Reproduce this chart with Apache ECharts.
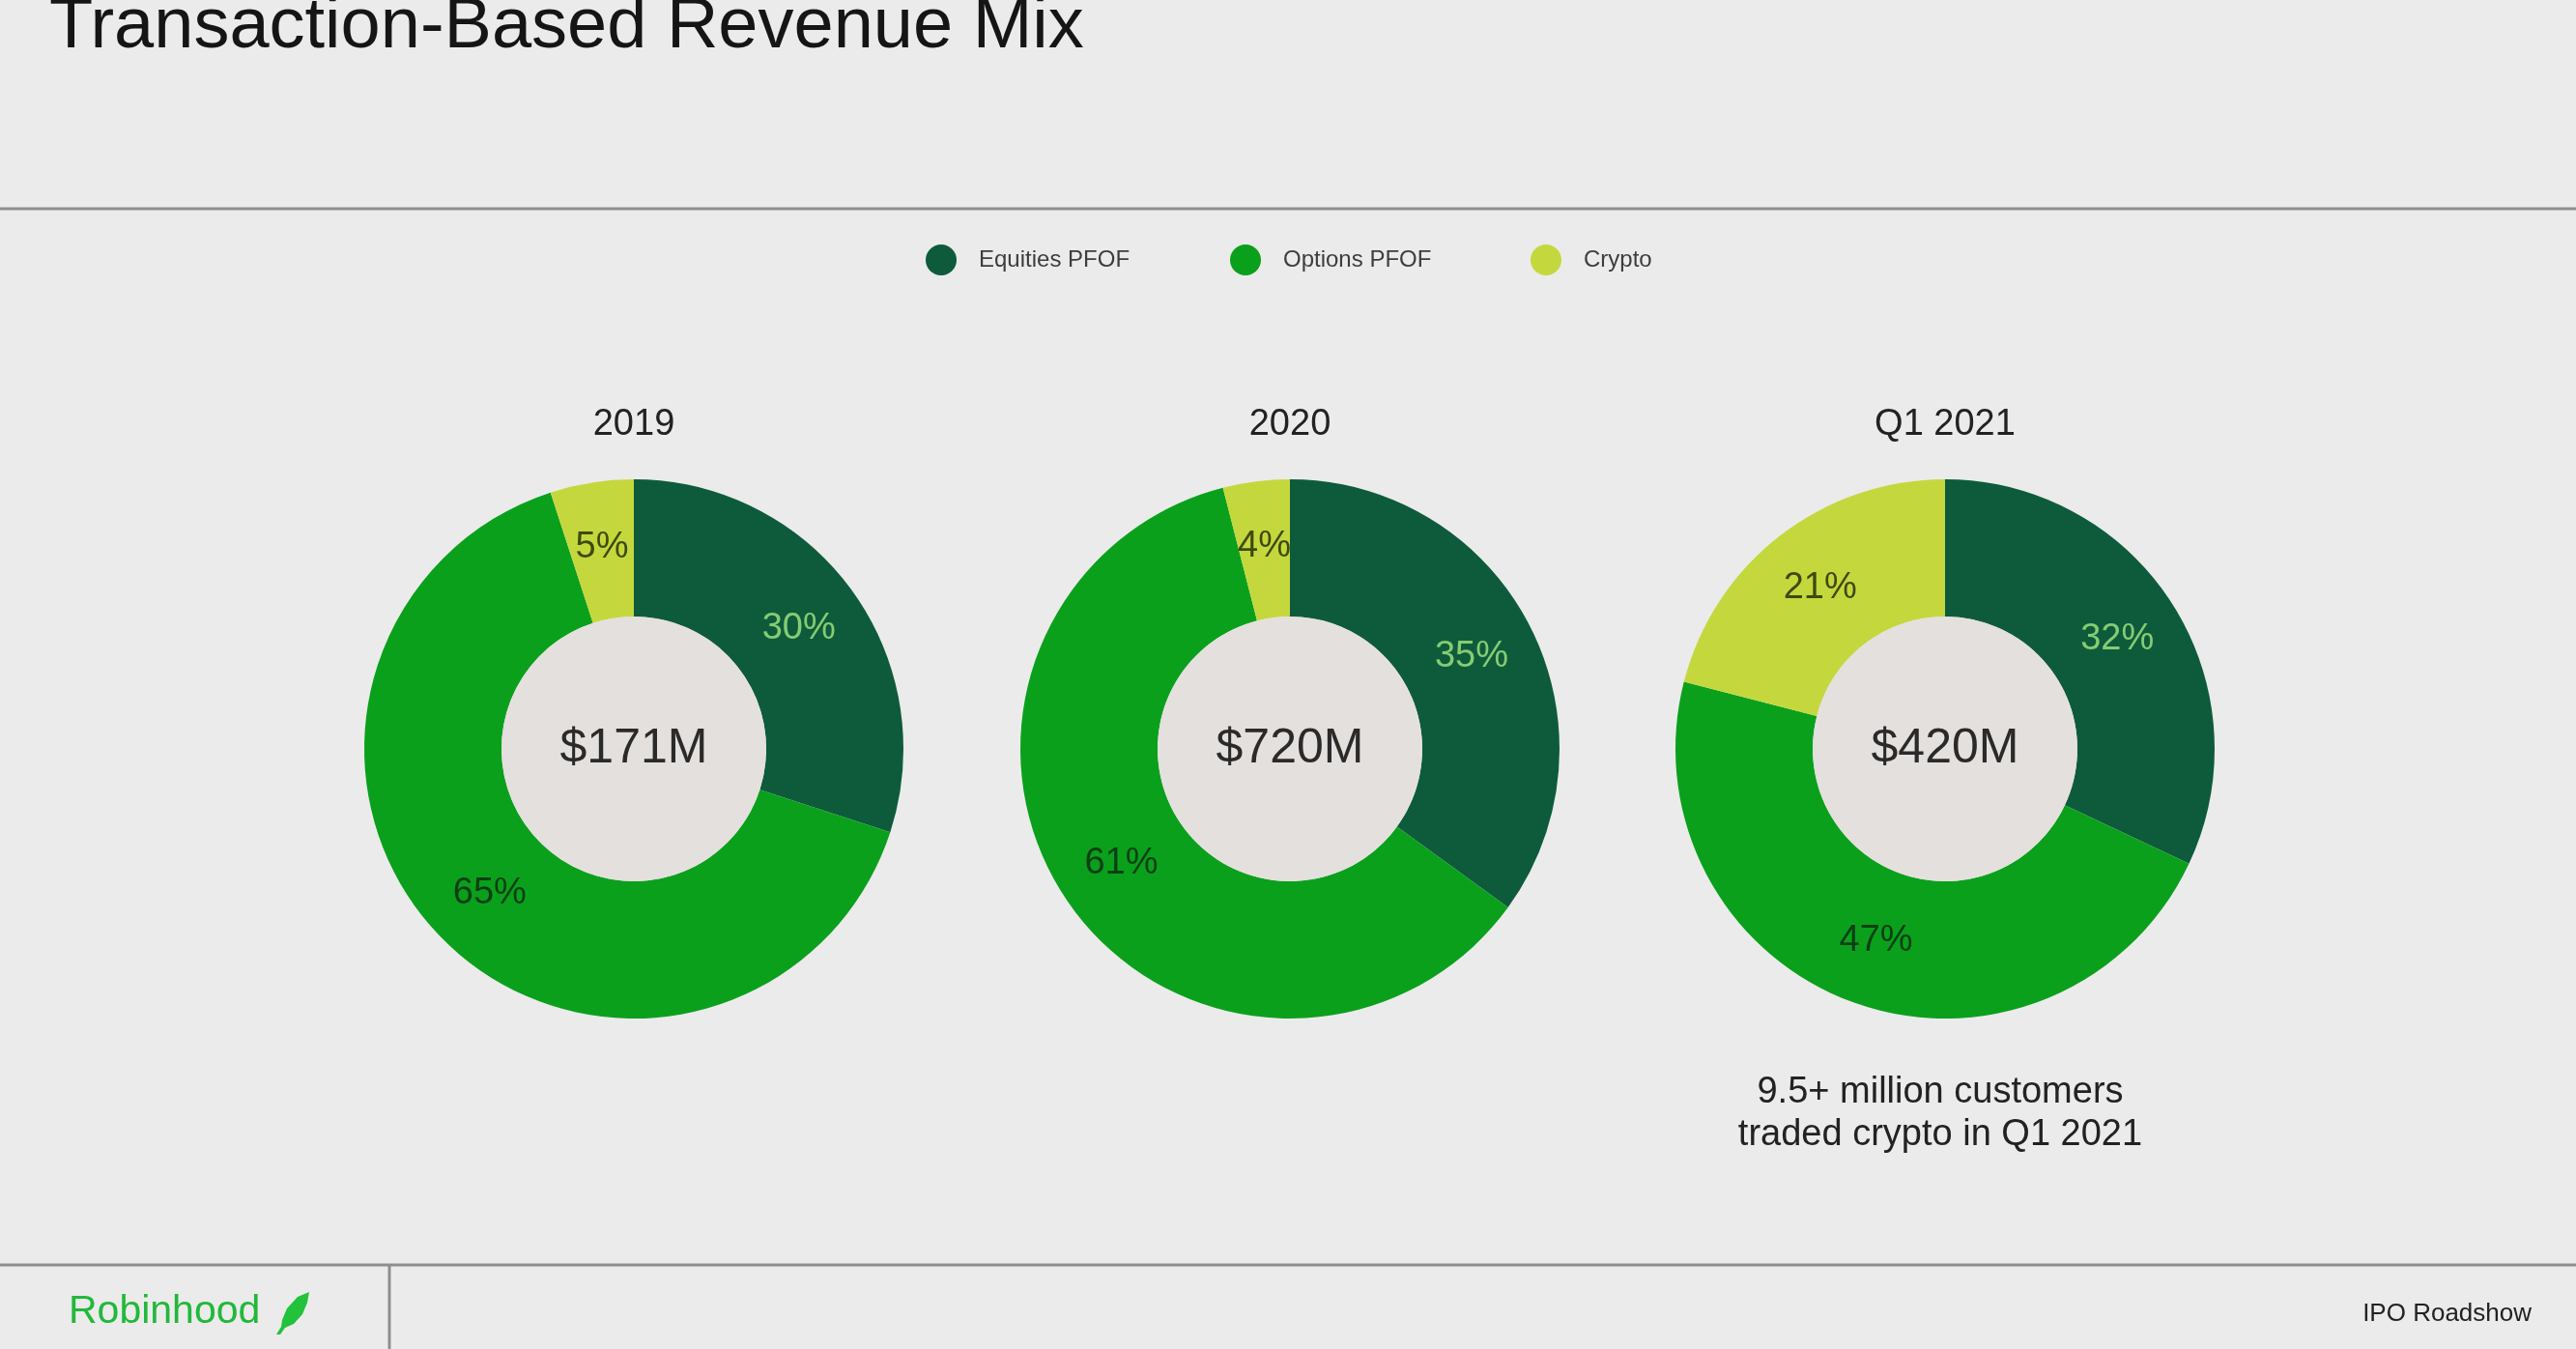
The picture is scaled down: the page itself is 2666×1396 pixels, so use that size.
<!DOCTYPE html>
<html>
<head>
<meta charset="utf-8">
<script src="https://cdn.jsdelivr.net/npm/echarts@6/dist/echarts.min.js"></script>
<style>
html,body{margin:0;padding:0;background:#ebebeb;}
#chart{width:2666px;height:1396px;}
</style>
</head>
<body>
<div id="chart"></div>
<script>
// ---- data ----
const categories = ['Equities PFOF', 'Options PFOF', 'Crypto'];
const periods = ['2019', '2020', 'Q1 2021'];
const equitiesPct = [30, 35, 32];
const optionsPct = [65, 61, 47];
const cryptoPct = [5, 4, 21];
const totalsM = [171, 720, 420];
const titleText = 'Transaction-Based Revenue Mix';
const noteLines = ['9.5+ million customers', 'traded crypto in Q1 2021'];
const brandText = 'Robinhood';
const footerText = 'IPO Roadshow';

// ---- styles ----
const sliceColors = ['#0e5b3c', '#0ba01c', '#c4d83d'];
const labelColors = ['#86cc72', '#0b3f15', '#3e4a0e'];
const discColor = '#e4e0dd';
const FONT = '"Liberation Sans", Arial, sans-serif';
const centersX = [656, 1335, 2013];
const centerY = 775;
const innerR = 137, outerR = 279;

const seriesList = [];
periods.forEach((p, i) => {
  const vals = [equitiesPct[i], optionsPct[i], cryptoPct[i]];
  seriesList.push({
    type: 'pie',
    name: p,
    center: [centersX[i], centerY],
    radius: [innerR, outerR],
    startAngle: 90,
    clockwise: true,
    silent: true,
    emphasis: {disabled: true},
    avoidLabelOverlap: false,
    itemStyle: {borderWidth: 0},
    label: {show: true, position: 'inside', formatter: '{c}%', fontFamily: FONT, fontSize: 38},
    labelLine: {show: false},
    data: categories.map((c, k) => ({
      name: c, value: vals[k],
      itemStyle: {color: sliceColors[k]},
      label: {color: labelColors[k]}
    }))
  });
  seriesList.push({
    type: 'pie',
    name: p + ' total',
    center: [centersX[i], centerY],
    radius: [0, innerR],
    silent: true,
    emphasis: {disabled: true},
    itemStyle: {color: discColor},
    label: {show: true, position: 'center', formatter: '${c}M', fontFamily: FONT, fontSize: 50, color: '#2a2a2a', padding: [12, 0, 0, 0]},
    labelLine: {show: false},
    data: [{name: p + ' total', value: totalsM[i]}]
  });
});

const legendLefts = [958, 1273, 1584];
const legends = categories.map((c, k) => ({
  data: [c],
  left: legendLefts[k],
  top: 253,
  padding: 0,
  icon: 'circle',
  itemWidth: 32,
  itemHeight: 32,
  selectedMode: false,
  textStyle: {fontFamily: FONT, fontSize: 24, color: '#3d3d3d', padding: [0, 0, 0, 18]}
}));

const graphics = [
  {type: 'text', x: 51, y: 29, style: {text: titleText, font: '74px ' + FONT, fill: '#151515', textAlign: 'left', textVerticalAlign: 'middle'}},
  {type: 'line', shape: {x1: 0, y1: 216, x2: 2666, y2: 216}, style: {stroke: '#8e8e8e', lineWidth: 3}},
  {type: 'line', shape: {x1: 0, y1: 1309, x2: 2666, y2: 1309}, style: {stroke: '#8e8e8e', lineWidth: 3}},
  {type: 'line', shape: {x1: 403, y1: 1309, x2: 403, y2: 1396}, style: {stroke: '#8e8e8e', lineWidth: 3}},
  {type: 'text', x: 71, y: 1358, style: {text: brandText, font: '41px ' + FONT, fill: '#22b83a', textAlign: 'left', textVerticalAlign: 'middle'}},
  {type: 'polygon', shape: {points: [[320,1337],[308,1342],[297,1354],[292,1366],[291,1373],[286,1381],[290,1381],[295,1374],[304,1370],[313,1360],[318,1348]]}, style: {fill: '#22c23a'}},
  {type: 'text', x: 2620, y: 1360, style: {text: footerText, font: '26px ' + FONT, fill: '#222', textAlign: 'right', textVerticalAlign: 'middle'}},
  {type: 'text', x: 2008, y: 1153, style: {text: noteLines.join('\n'), font: '38px ' + FONT, lineHeight: 44, fill: '#222', textAlign: 'center', textVerticalAlign: 'middle'}}
];
periods.forEach((p, i) => {
  graphics.push({type: 'text', x: centersX[i], y: 440, style: {text: p, font: '38px ' + FONT, fill: '#222', textAlign: 'center', textVerticalAlign: 'middle'}});
});

const chart = echarts.init(document.getElementById('chart'), null, {renderer: 'canvas'});
chart.setOption({
  backgroundColor: '#ebebeb',
  animation: false,
  legend: legends,
  series: seriesList,
  graphic: graphics
});
</script>
</body>
</html>
